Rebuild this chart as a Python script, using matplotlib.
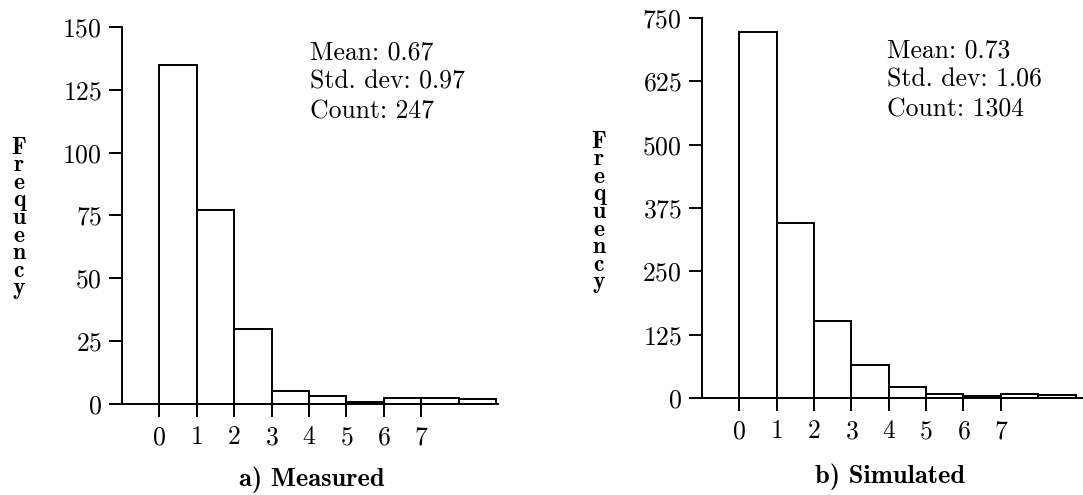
import numpy as np
import matplotlib
matplotlib.use("Agg")
import matplotlib.pyplot as plt

plt.rcParams['font.family'] = 'cmr10'
plt.rcParams['axes.formatter.use_mathtext'] = True

# bin left edges and counts
bins = [0, 1, 2, 3, 4, 5, 6, 7, 8]
measured = [135, 77, 30, 5, 3.2, 0.8, 2.3, 2.5, 1.9]
simulated = [722, 346, 152, 65, 21, 7, 3, 8, 6]

xticks = [0, 1, 2, 3, 4, 5, 6, 7]
yticks_a = [0, 25, 50, 75, 100, 125, 150]
yticks_b = [0, 125, 250, 375, 500, 625, 750]

stats_a = ["Mean: 0.67", "Std. dev: 0.97", "Count: 247"]
stats_b = ["Mean: 0.73", "Std. dev: 1.06", "Count: 1304"]

W, H = 1083, 495
fig = plt.figure(figsize=(W / 100, H / 100), dpi=100)


def px(x, y):
    return x / W, 1 - y / H


def panel(rect, counts, yticks, xmax, stats, sx, sy, label, lx, ly, fx, fy):
    ax = fig.add_axes(rect)
    ax.bar(bins, counts, width=1, align='edge', facecolor='white',
           edgecolor='black', linewidth=1.4)
    ax.set_xlim(-1, xmax)
    ax.set_ylim(0, yticks[-1])
    ax.set_xticks(xticks)
    ax.set_yticks(yticks)
    for s in ['top', 'right']:
        ax.spines[s].set_visible(False)
    for s in ['left', 'bottom']:
        ax.spines[s].set_linewidth(1.4)
    ax.tick_params(direction='out', length=9.5, width=1.4, labelsize=18.5,
                   pad=5)
    ax.tick_params(axis='x', pad=6)
    for i, t in enumerate(stats):
        x, y = px(sx, sy + i * 29.7)
        fig.text(x, y, t, ha='left', va='baseline', fontsize=18.5)
    x, y = px(lx, ly)
    fig.text(x, y, label, ha='center', va='center', fontsize=19,
             family='cmb10')
    x, y = px(fx, fy)
    fig.text(x, y, "\n".join("Frequency"), ha='center', va='center',
             fontsize=17, family='cmb10', linespacing=0.74,
             multialignment='center')
    return ax


panel([122 / W, 91 / H, 376 / W, 377 / H], measured, yticks_a, 9.05,
      stats_a, 310, 59, "a) Measured", 312, 480, 19, 218)
panel([702 / W, 97 / H, 381 / W, 380 / H], simulated, yticks_b, 9.2,
      stats_b, 887, 57, "b) Simulated", 890, 477, 599, 212)

fig.savefig("out.png", dpi=100)
